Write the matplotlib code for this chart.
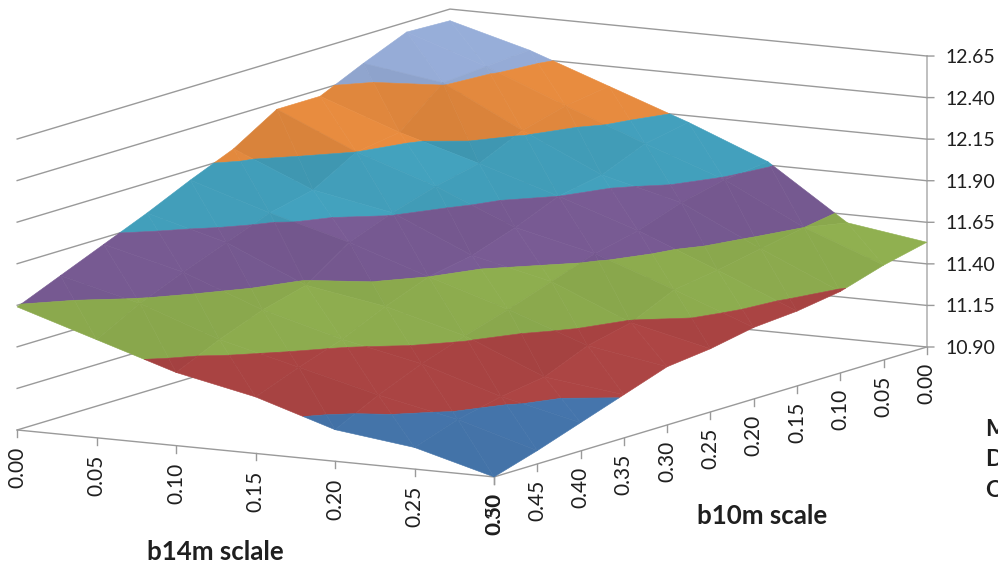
import numpy as np
import matplotlib
matplotlib.use("Agg")
import matplotlib.pyplot as plt
from mpl_toolkits.mplot3d import proj3d
from mpl_toolkits.mplot3d.art3d import Poly3DCollection

plt.rcParams['font.family'] = ['Lato', 'DejaVu Sans']

b14_values = [0.00, 0.05, 0.10, 0.15, 0.20, 0.25, 0.30]
b10_values = [0.00, 0.05, 0.10, 0.15, 0.20, 0.25, 0.30, 0.35, 0.40, 0.45, 0.50]
z_levels = [10.90, 11.15, 11.40, 11.65, 11.90, 12.15, 12.40, 12.65]

# one row per b14 value, one column per b10 value
surface_z = [
    [12.58, 12.59, 12.48, 12.36, 12.36, 12.20, 12.09, 11.97, 11.86, 11.75, 11.64],
    [12.45, 12.43, 12.41, 12.19, 12.15, 12.00, 11.94, 11.84, 11.74, 11.63, 11.49],
    [12.28, 12.24, 12.17, 12.05, 11.99, 11.91, 11.81, 11.63, 11.56, 11.46, 11.34],
    [12.11, 12.06, 11.95, 11.90, 11.79, 11.70, 11.65, 11.55, 11.43, 11.34, 11.24],
    [11.92, 11.89, 11.83, 11.74, 11.68, 11.59, 11.50, 11.42, 11.33, 11.22, 11.09],
    [11.60, 11.65, 11.60, 11.55, 11.51, 11.39, 11.33, 11.22, 11.18, 11.12, 11.03],
    [11.53, 11.47, 11.39, 11.35, 11.33, 11.28, 11.25, 11.16, 11.07, 10.98, 10.90],
]

band_colors = ["#4372a7", "#a84342", "#8cab4e", "#775a92", "#429fbb", "#e58a3e", "#93a9d3"]
grid_color = "#9a9a9a"
text_color = "#1f1f1f"

BOX = (549.6, 871.0, 295.4)  # box edge lengths, px


def clip_band(tri, lo, hi):
    # cut a 3d polygon down to the part with lo <= z <= hi
    def cut(pts, level, keep_above):
        out = []
        for i in range(len(pts)):
            a, b = pts[i], pts[(i + 1) % len(pts)]
            ina = a[2] >= level if keep_above else a[2] <= level
            inb = b[2] >= level if keep_above else b[2] <= level
            if ina:
                out.append(a)
            if ina != inb:
                t = (level - a[2]) / (b[2] - a[2])
                out.append(a + t * (b - a))
        return out
    pts = cut(list(tri), lo, True)
    if pts:
        pts = cut(pts, hi, False)
    return pts


def facets(xs, ys, zs):
    # each cell is split along its diagonal
    tris = []
    for i in range(len(xs) - 1):
        for j in range(len(ys) - 1):
            c00 = np.array([xs[i], ys[j], zs[i][j]])
            c01 = np.array([xs[i], ys[j + 1], zs[i][j + 1]])
            c11 = np.array([xs[i + 1], ys[j + 1], zs[i + 1][j + 1]])
            c10 = np.array([xs[i + 1], ys[j], zs[i + 1][j]])
            tris += [(c00, c01, c11), (c00, c11, c10)]
    return tris


fig = plt.figure(figsize=(9.98, 5.63), dpi=100)

# square 3d axes placed so the box centre lands at (472, 243) px from the top left
W = 1040.0
left = 472 - W * 0.95 / 1.85
bottom = (563 - 243) - W * 0.95 / 1.85
ax = fig.add_axes([left / 998, bottom / 563, W / 998, W / 563], projection='3d', computed_zorder=False)
ax.set_proj_type('ortho')
ax.set_box_aspect(BOX)
ax.view_init(elev=9.9, azim=-60.2)
ax.set_xlim(b14_values[0], b14_values[-1], view_margin=0)
ax.set_ylim(b10_values[-1], b10_values[0], view_margin=0)
ax.set_zlim(z_levels[0], z_levels[-1], view_margin=0)
ax.set_axis_off()
ax.apply_aspect()


def label(x, y, z, s, size=14, **kw):
    # text placed at the projected position of a data point
    xs, ys, _ = proj3d.proj_transform(x, y, z, ax.get_proj())
    px = ax.transData.transform((xs, ys))
    fig.text(px[0] / 998, px[1] / 563, s, fontsize=size, color=text_color, **kw)


x0, x1 = b14_values[0], b14_values[-1]
y0, y1 = b10_values[0], b10_values[-1]
z0, z1 = z_levels[0], z_levels[-1]

# walls and floor
for z in z_levels:
    ax.plot([x0, x0, x1], [y1, y0, y0], [z, z, z], color=grid_color, lw=1.0, zorder=1)
ax.plot([x0, x1, x1], [y1, y1, y0], [z0, z0, z0], color=grid_color, lw=1.0, zorder=1)
ax.plot([x1, x1], [y0, y0], [z0, z1], color="#b4b4b4", lw=1.2, zorder=1)

# ticks: 7px below the floor, 7px to the right on the value axis
tick_drop = 7 / 166.3
for v in b14_values:
    ax.plot([v, v], [y1, y1], [z0, z0 - tick_drop], color=grid_color, lw=1.0, zorder=1)
    label(v, y1, z0 - 17 / 166.3, "%.2f" % v, size=15, rotation=90, ha='center', va='top')
for v in b10_values:
    ax.plot([x1, x1], [v, v], [z0, z0 - tick_drop], color=grid_color, lw=1.0, zorder=1)
    label(x1, v, z0 - 16 / 166.3, "%.2f" % v, size=15, rotation=90, ha='center', va='top')
# b14 +dx and b10 -dy together move straight right on screen
dx, dy = 0.05 * 7 / 105.6, 0.05 * 0.602 * 7 / 105.6
for z in z_levels:
    ax.plot([x1, x1 + dx], [y0, y0 - dy], [z, z], color=grid_color, lw=1.0, zorder=1)
    label(x1 + 2.7 * dx, y0 - 2.7 * dy, z - 1.5 / 166.3, "%.2f" % z, ha='left', va='center')

# surface, coloured in bands between the value levels
tris = facets(b14_values, b10_values, surface_z)
scale = np.array([BOX[0] / (x1 - x0), BOX[1] / (y0 - y1), BOX[2] / (z1 - z0)])
light = np.array([-0.45, 0.55, 0.7])
normals = []
for a, b, c in tris:
    n = np.cross((b - a) * scale, (c - a) * scale)
    n = n / np.linalg.norm(n)
    if n[2] < 0:
        n = -n
    normals.append(n @ light)
normals = np.array(normals)
shades = np.clip(1 + 0.4 * (normals - normals.mean()), 0.92, 1.03)

polys, cols = [], []
for tri, sh in zip(tris, shades):
    for b in range(len(z_levels) - 1):
        pts = clip_band(tri, z_levels[b], z_levels[b + 1])
        if len(pts) >= 3:
            polys.append(np.array(pts))
            cols.append(np.array(matplotlib.colors.to_rgb(band_colors[b])) * sh)

surf = Poly3DCollection(polys, facecolors=cols, edgecolors=cols, linewidths=0.4, zorder=5)
ax.add_collection3d(surf)

# axis titles and the legend text running off the right edge
fig.text(147 / 998, 1 - 552 / 563, "b14m sclale", fontsize=18.6, fontweight='bold', color=text_color,
         ha='left', va='center')
fig.text(697 / 998, 1 - 516 / 563, "b10m scale", fontsize=18.6, fontweight='bold', color=text_color,
         ha='left', va='center')
for s, yy in zip(["M", "D", "Q"], [429, 459, 490]):
    fig.text(985 / 998, 1 - yy / 563, s, fontsize=16.5, fontweight='bold', color=text_color,
             ha='left', va='center')

fig.savefig("out.png", dpi=100)
